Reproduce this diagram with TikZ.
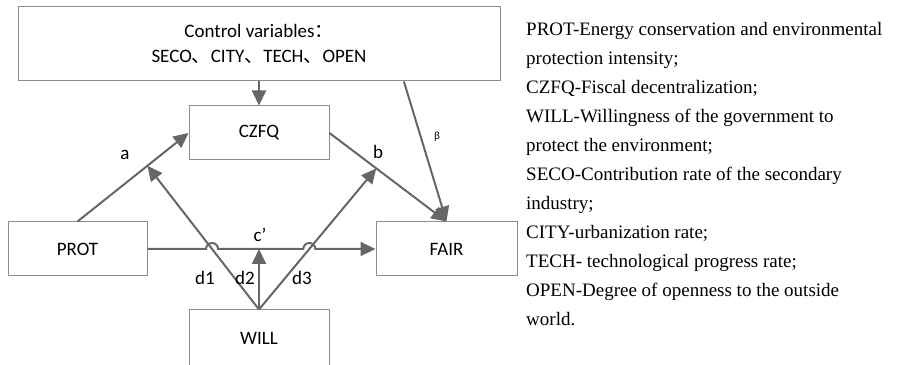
\documentclass[tikz,border=0pt]{standalone}
\usepackage{fontspec}
\setmainfont{Liberation Serif}
\newfontfamily\carlito{Carlito}
\newfontfamily\cjk{Noto Sans CJK SC}
\usetikzlibrary{arrows.meta,calc}
\definecolor{linegray}{HTML}{666666}
\definecolor{boxgray}{HTML}{8C8C8C}
\tikzset{
  box/.style={draw=boxgray, line width=1pt, minimum width=140pt, minimum height=54pt,
    font=\carlito\fontsize{19}{25}\selectfont, align=center},
  conn/.style={draw=linegray, line width=2pt, -{Triangle[length=15pt,width=14pt]}},
  lbl/.style={font=\carlito\fontsize{19}{24}\selectfont, inner sep=0pt}
}

\begin{document}
\begin{tikzpicture}[x=1pt,y=1pt]
\useasboundingbox (0,0) rectangle (899,364);
  \node [box, minimum width=482pt, minimum height=74pt] (ctrl) at (259,320)
    {Control variables{\cjk ：}\\ SECO{\cjk 、}CITY{\cjk 、}TECH{\cjk 、}OPEN};
  \node [box] (czfq) at (259,231) {CZFQ};
  \node [box, minimum width=139pt] (prot) at (77.5,115) {PROT};
  \node [box, minimum width=141pt] (fair) at (446.5,115) {FAIR};
  \node [box, minimum height=56pt] (will) at (259,26) {WILL};

  % points where the moderating arrows end
  \path (prot.north) -- coordinate[pos=.63] (ma) (czfq.west);
  \path (czfq.east) -- coordinate[pos=.4] (mb) (fair.north);
  \coordinate (beta) at ($(ctrl.south west)!.8!(ctrl.south east)$);
  \coordinate (h1) at (intersection of will.north--ma and prot.east--fair.west);
  \coordinate (h2) at (intersection of will.north--mb and prot.east--fair.west);

  \draw [conn] (ctrl.south) -- (czfq.north);
  \draw [conn] (prot.north) -- (czfq.west);
  \draw [conn] (czfq.east) -- (fair.north);
  \draw [conn] (beta) -- (fair.north);
  \draw [conn] (prot.east) -- ($(h1)+(-6,0)$) arc[start angle=180,end angle=0,radius=6]
    -- ($(h2)+(-6,0)$) arc[start angle=180,end angle=0,radius=6] -- (fair.west);
  \draw [conn] (will.north) -- (ma);
  \draw [conn] (will.north) -- (will.north |- prot.east);
  \draw [conn] (will.north) -- (mb);

  \node [lbl] (la) at (125,209) {a};
  \node [lbl] (lb) at (378,212) {b};
  \node [lbl, font=\carlito\fontsize{11}{13}\selectfont] (lbeta) at (437,227) {β};
  \node [lbl] (lc) at (260,129) {c’};
  \node [lbl] (ld1) at (205,86) {d1};
  \node [lbl] (ld2) at (245,86) {d2};
  \node [lbl] (ld3) at (302,86) {d3};

  \foreach \txt [count=\i from 0] in {PROT-Energy conservation and environmental,
    protection intensity;, CZFQ-Fiscal decentralization;,
    WILL-Willingness of the government to, protect the environment;,
    SECO-Contribution rate of the secondary, industry;, CITY-urbanization rate;,
    TECH- technological progress rate;, OPEN-Degree of openness to the outside, world.}
    \node [anchor=base west, inner sep=0pt, font=\fontsize{19}{29}\selectfont]
      (leg\i) at (526,{328-29*\i}) {\txt};
\end{tikzpicture}
\end{document}
